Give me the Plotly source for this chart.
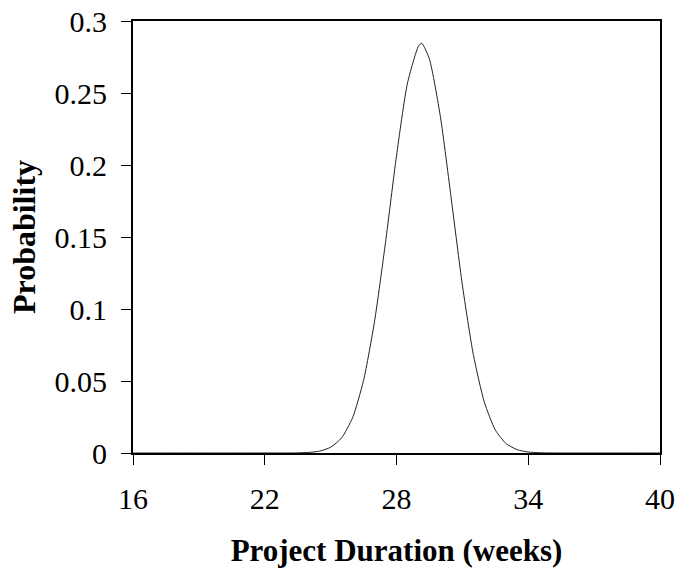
import plotly.graph_objects as go

# Project duration (weeks) and probability values
weeks = [16, 23.0, 23.5, 24.0, 24.5, 25.0, 25.5, 26.0, 26.5, 27.0, 27.5, 28.0, 28.5,
         29.0, 29.15, 29.5, 30.0, 30.5, 31.0, 31.5, 32.0, 32.5, 33.0, 33.5, 34.0,
         34.5, 35.0, 40]
probability = [0.0, 0.00002, 0.0001, 0.0004, 0.0013, 0.0040, 0.0105, 0.0245, 0.0504,
               0.0914, 0.1463, 0.2064, 0.2569, 0.2825, 0.2845, 0.2735, 0.2335, 0.1757,
               0.1166, 0.0683, 0.0353, 0.0160, 0.0064, 0.0023, 0.0007, 0.0002, 0.00005,
               0.0]

x_ticks = [16, 22, 28, 34, 40]
y_ticks = [0, 0.05, 0.1, 0.15, 0.2, 0.25, 0.3]
y_tick_labels = ["0", "0.05", "0.1", "0.15", "0.2", "0.25", "0.3"]

font_family = "Liberation Serif"

fig = go.Figure()
fig.add_trace(go.Scatter(
    x=weeks, y=probability, mode="lines",
    line=dict(color="#222222", width=1, shape="spline", smoothing=0.6),
    hoverinfo="skip", showlegend=False,
))

fig.update_layout(
    width=678, height=570,
    margin=dict(l=133, r=18, t=21, b=117, autoexpand=False),
    paper_bgcolor="white", plot_bgcolor="white",
    font=dict(family=font_family, color="black", size=30),
    xaxis=dict(
        range=[16, 40], tickvals=x_ticks, ticktext=[str(v) for v in x_ticks],
        automargin=False,
        showgrid=False, zeroline=False,
        showline=True, linecolor="black", linewidth=2, mirror=True,
        ticks="outside", ticklen=10, tickwidth=1, tickcolor="black",
        ticklabelstandoff=8,
        tickfont=dict(family=font_family, size=30, color="black"),
        title=dict(text="<b>Project Duration (weeks)</b>",
                   font=dict(family=font_family, size=31, color="black"),
                   standoff=25),
    ),
    yaxis=dict(
        range=[0, 0.3], tickvals=y_ticks, ticktext=y_tick_labels,
        automargin=False,
        showgrid=False, zeroline=False,
        showline=True, linecolor="black", linewidth=2, mirror=True,
        ticks="outside", ticklen=10, tickwidth=1, tickcolor="black",
        ticklabelstandoff=8,
        tickfont=dict(family=font_family, size=30, color="black"),
        title=dict(text="<b>Probability</b>",
                   font=dict(family=font_family, size=32, color="black"),
                   standoff=9),
    ),
)

fig.write_html("out.html")
